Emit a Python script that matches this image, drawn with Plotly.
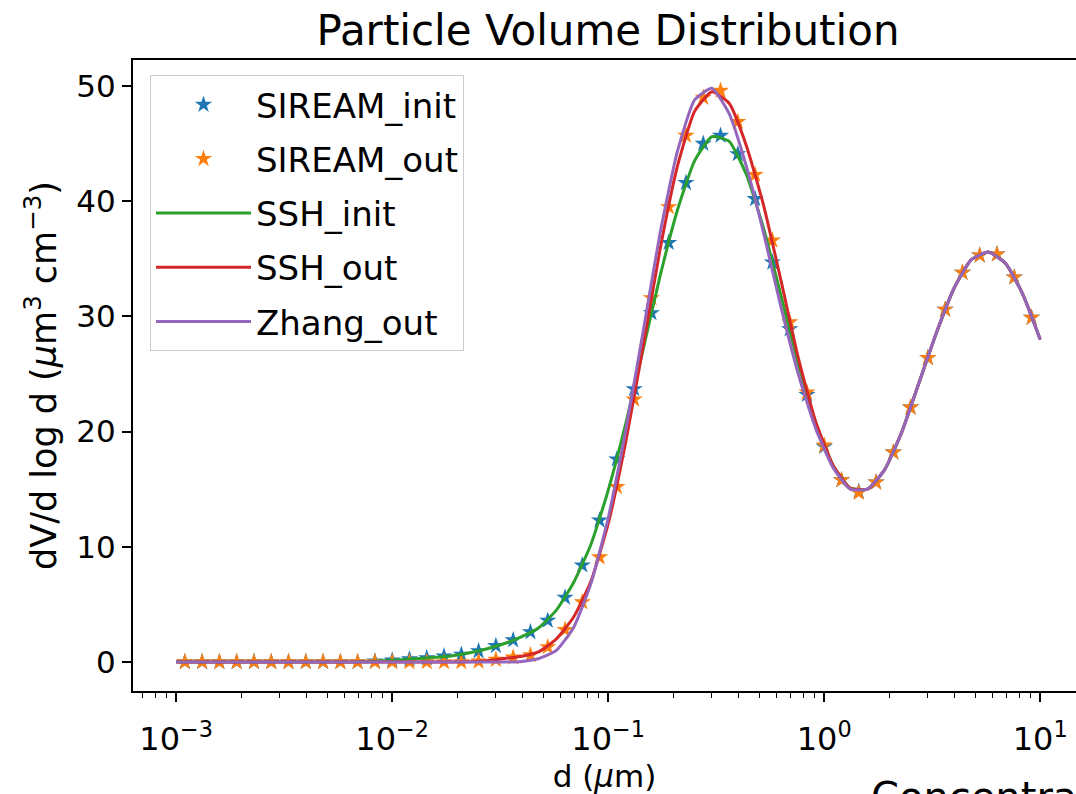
import plotly.graph_objects as go

# ---- data ----
# log10 of bin-centre diameters (um) for the SIREAM markers
star_log10_d = [-2.96, -2.88, -2.80, -2.72, -2.64, -2.56, -2.48, -2.40, -2.32, -2.24,
                -2.16, -2.08, -2.00, -1.92, -1.84, -1.76, -1.68, -1.60, -1.52, -1.44,
                -1.36, -1.28, -1.20, -1.12, -1.04, -0.96, -0.88, -0.80, -0.72, -0.64,
                -0.56, -0.48, -0.40, -0.32, -0.24, -0.16, -0.08, 0.00, 0.08, 0.16,
                0.24, 0.32, 0.40, 0.48, 0.56, 0.64, 0.72, 0.80, 0.88, 0.96]

siream_init = [0, 0, 0, 0, 0, 0, 0, 0, 0, 0,
               0, 0.05, 0.15, 0.25, 0.35, 0.5, 0.65, 0.95, 1.4, 1.9,
               2.6, 3.6, 5.6, 8.4, 12.3, 17.6, 23.7, 30.3, 36.4, 41.6,
               45.0, 45.7, 44.1, 40.2, 34.7, 28.9, 23.2, 18.7, 15.8, 14.8,
               15.6, 18.2, 22.1, 26.4, 30.6, 33.8, 35.3, 35.4, 33.4, 29.9]

siream_out = [0, 0, 0, 0, 0, 0, 0, 0, 0, 0,
              0, 0, 0, 0, 0, 0, 0, 0.05, 0.2, 0.4,
              0.6, 1.3, 2.8, 5.2, 9.1, 15.2, 22.8, 31.6, 39.5, 45.7,
              49.0, 49.6, 46.9, 42.3, 36.6, 29.5, 23.4, 18.8, 15.8, 14.7,
              15.6, 18.2, 22.1, 26.4, 30.6, 33.8, 35.3, 35.4, 33.4, 29.9]

# log10 of diameters (um) for the continuous curves
line_log10_d = [-3.00, -2.92, -2.84, -2.76, -2.68, -2.60, -2.52, -2.44, -2.36, -2.28,
                -2.20, -2.12, -2.04, -1.96, -1.88, -1.80, -1.72, -1.64, -1.56, -1.48,
                -1.40, -1.32, -1.24, -1.16, -1.08, -1.00, -0.92, -0.84, -0.76, -0.68,
                -0.60, -0.52, -0.44, -0.36, -0.28, -0.20, -0.12, -0.04, 0.04, 0.12,
                0.20, 0.28, 0.36, 0.44, 0.52, 0.60, 0.68, 0.76, 0.84, 0.92, 1.00]

ssh_init = [0, 0, 0, 0, 0, 0, 0, 0, 0, 0,
            0, 0.03, 0.1, 0.2, 0.3, 0.4, 0.55, 0.8, 1.15, 1.6,
            2.2, 3.0, 4.5, 6.9, 10.2, 14.9, 20.6, 27.0, 33.5, 39.2,
            43.5, 45.6, 45.2, 42.3, 37.6, 31.8, 25.9, 20.8, 17.1, 15.1,
            15.0, 16.7, 20.0, 24.3, 28.6, 32.4, 34.9, 35.6, 34.6, 31.9, 28.0]

ssh_out = [0, 0, 0, 0, 0, 0, 0, 0, 0, 0,
           0, 0, 0, 0, 0, 0, 0, 0.02, 0.1, 0.3,
           0.5, 0.9, 2.0, 3.9, 7.0, 12.0, 19.0, 27.2, 35.8, 43.0,
           47.8, 49.5, 48.5, 44.8, 39.6, 33.1, 26.4, 20.9, 17.1, 15.1,
           15.0, 16.7, 20.0, 24.3, 28.6, 32.4, 34.9, 35.6, 34.6, 31.9, 28.0]

zhang_out = [0, 0, 0, 0, 0, 0, 0, 0, 0, 0,
             0, 0, 0, 0, 0, 0, 0, 0, 0, 0,
             0.05, 0.3, 1.0, 3.0, 6.8, 12.5, 20.0, 28.5, 37.2, 44.3,
             48.8, 49.8, 47.6, 43.0, 37.2, 30.8, 25.0, 20.3, 16.9, 15.0,
             15.0, 16.7, 20.0, 24.3, 28.6, 32.4, 34.9, 35.6, 34.6, 31.9, 28.0]

x_tick_vals = [0.001, 0.01, 0.1, 1, 10]
x_tick_text = ["10<sup>−3</sup>", "10<sup>−2</sup>", "10<sup>−1</sup>", "10<sup>0</sup>", "10<sup>1</sup>"]
y_tick_vals = [0, 10, 20, 30, 40, 50]

star_d = [10 ** v for v in star_log10_d]
line_d = [10 ** v for v in line_log10_d]

FONT = "DejaVu Sans"
W, H = 1076, 794
ML, MT, MB, MR = 133, 60, 103, 0

fig = go.Figure()
fig.add_trace(go.Scatter(x=star_d, y=siream_init, mode="markers", name="SIREAM_init",
                         legendgroup="a",
                         marker=dict(symbol="star", size=13, color="#1f77b4")))
fig.add_trace(go.Scatter(x=star_d, y=siream_out, mode="markers", name="SIREAM_out",
                         legendgroup="b",
                         marker=dict(symbol="star", size=13, color="#ff7f0e")))
fig.add_trace(go.Scatter(x=line_d, y=ssh_init, mode="lines", name="SSH_init",
                         legendgroup="c",
                         line=dict(color="#2ca02c", width=3, shape="spline", smoothing=0.5)))
fig.add_trace(go.Scatter(x=line_d, y=ssh_out, mode="lines", name="SSH_out",
                         legendgroup="d",
                         line=dict(color="#d62728", width=3, shape="spline", smoothing=0.5)))
fig.add_trace(go.Scatter(x=line_d, y=zhang_out, mode="lines", name="Zhang_out",
                         legendgroup="e",
                         line=dict(color="#9467bd", width=3, shape="spline", smoothing=0.5)))

decade_px = 216.0
x_lo = -3.2
x_hi = x_lo + (W - ML - MR) / decade_px

fig.update_layout(
    width=W, height=H,
    margin=dict(l=ML, r=MR, t=MT, b=MB, pad=0, autoexpand=False),
    paper_bgcolor="white", plot_bgcolor="white",
    font=dict(family=FONT, color="black", size=30),
    title=dict(text="Particle Volume Distribution", font=dict(size=42, family=FONT),
               x=608 / W, xanchor="center", xref="container",
               y=1 - 30 / H, yanchor="middle", yref="container"),
    legend=dict(x=(150 - ML) / (W - ML - MR), y=1 - (75 - MT) / (H - MT - MB),
                xanchor="left", yanchor="top",
                bgcolor="white", bordercolor="#cccccc", borderwidth=1,
                font=dict(size=34, family=FONT),
                tracegroupgap=7, itemwidth=95),
    showlegend=True,
    xaxis=dict(type="log", range=[x_lo, x_hi], automargin=False,
               tickvals=x_tick_vals, ticktext=x_tick_text,
               ticks="outside", ticklen=9, tickwidth=1.5, tickcolor="black",
               ticklabelstandoff=10,
               showline=True, linecolor="black", linewidth=2, mirror=True,
               showgrid=False, zeroline=False,
               tickfont=dict(size=32, family=FONT),
               minor=dict(ticks="outside", ticklen=5, tickwidth=1, tickcolor="black",
                          dtick="D1", showgrid=False),
               title=dict(text="d (<i>μ</i>m)", font=dict(size=31, family=FONT), standoff=18)),
    yaxis=dict(range=[-2.52, 52.26], automargin=False,
               tickvals=y_tick_vals,
               ticks="outside", ticklen=9, tickwidth=1.5, tickcolor="black",
               showline=True, linecolor="black", linewidth=2, mirror=False,
               showgrid=False, zeroline=False,
               tickfont=dict(size=31, family=FONT),
               title=dict(text="dV/d log d (<i>μ</i>m<sup>3</sup> cm<sup>−3</sup>)",
                          font=dict(size=35, family=FONT), standoff=9)),
)

fig.add_annotation(text="Concentration", xref="paper", yref="paper",
                   x=(869 - ML) / (W - ML - MR), y=-(772 - (H - MB)) / (H - MT - MB),
                   xanchor="left", yanchor="top", showarrow=False,
                   font=dict(size=40, family=FONT, color="black"))

fig.write_html("out.html")
